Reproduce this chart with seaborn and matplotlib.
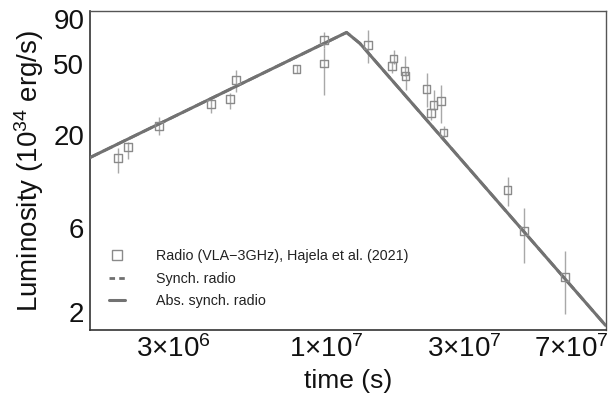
import numpy as np
import pandas as pd
import matplotlib
matplotlib.use("Agg")
import matplotlib.pyplot as plt
from matplotlib.lines import Line2D
import seaborn as sns

# ---- data ----
obs_t = [1.934e6, 2.093e6, 2.674e6, 4.017e6, 4.68e6, 4.907e6, 7.93e6, 9.87e6, 9.87e6,
         1.398e7, 1.708e7, 1.686e7, 1.864e7, 1.879e7, 2.218e7, 2.345e7, 2.301e7, 2.479e7,
         2.538e7, 4.211e7, 4.80e7, 6.63e7]
obs_L = [14.76, 17.02, 22.44, 29.74, 31.86, 40.76, 46.85, 68.5, 50.6,
         64.2, 54.0, 48.89, 45.8, 42.93, 36.26, 29.35, 26.56, 30.92,
         20.67, 9.77, 5.74, 3.17]
obs_hi = [16.80, 18.30, 25.12, 31.72, 34.31, 46.43, 49.54, 76.3, 61.75,
          77.98, 60.15, 51.5, 55.65, 45.5, 44.48, 35.8, 28.0, 38.19,
          22.43, 11.61, 7.71, 4.44]
obs_lo = [12.24, 14.57, 19.97, 26.46, 27.87, 35.03, 44.48, 61.75, 33.6,
          50.6, 50.5, 44.48, 43.0, 35.8, 28.59, 27.5, 24.25, 23.24,
          19.52, 7.94, 3.80, 1.95]

model_t = [1.545e6, 1.178e7, 1.31e7, 9.14e7]
model_L = [14.9, 75.7, 65.6, 1.69]

xticks = [3e6, 1e7, 3e7, 7e7]
xtick_labels = [r"3×10$^{6}$", r"1×10$^{7}$", r"3×10$^{7}$", r"7×10$^{7}$"]
yticks = [2, 6, 20, 50, 90]
ytick_labels = ["2", "6", "20", "50", "90"]

legend_labels = ["Radio (VLA\u22123GHz), Hajela et al. (2021)", "Synch. radio", "Abs. synch. radio"]

# ---- style ----
sns.set_style("white")
plt.rcParams["font.family"] = ["Liberation Sans", "DejaVu Sans"]
plt.rcParams["mathtext.fontset"] = "custom"
plt.rcParams["mathtext.rm"] = "Liberation Sans"
plt.rcParams["mathtext.it"] = "Liberation Sans:italic"
plt.rcParams["mathtext.default"] = "regular"

fig = plt.figure(figsize=(6.11, 4.07), dpi=100)
ax = fig.add_axes([0.147, 0.189, 0.844, 0.784])

df_obs = pd.DataFrame({"t": obs_t, "L": obs_L, "hi": obs_hi, "lo": obs_lo})
df_mod = pd.DataFrame({"t": model_t, "L": model_L})

ax.set_xscale("log")
ax.set_yscale("log")

# error bars
yerr = np.vstack([df_obs["L"] - df_obs["lo"], df_obs["hi"] - df_obs["L"]])
ax.errorbar(df_obs["t"], df_obs["L"], yerr=yerr, fmt="none", ecolor="#a8a8a8",
            elinewidth=1.0, capsize=0, zorder=2)

# model lines
sns.lineplot(data=df_mod, x="t", y="L", ax=ax, color="#707070", lw=2.0,
             linestyle="--", zorder=3, legend=False)
sns.lineplot(data=df_mod, x="t", y="L", ax=ax, color="#727272", lw=2.2,
             zorder=3, legend=False)

# markers
sns.scatterplot(data=df_obs, x="t", y="L", ax=ax, marker="s", s=32,
                facecolor="none", edgecolor="#8a8a8a", linewidth=1.0,
                zorder=4, legend=False)

ax.set_xlim(1.545e6, 9.14e7)
ax.set_ylim(1.589, 100)

ax.set_xticks(xticks)
ax.set_xticklabels(xtick_labels)
ax.set_yticks(yticks)
ax.set_yticklabels(ytick_labels)
ax.minorticks_off()
ax.tick_params(axis="both", direction="in", length=5, width=1, color="#555555",
               labelsize=20, pad=4, labelcolor="#111111")

for side in ["left", "bottom"]:
    ax.spines[side].set_color("#333333")
    ax.spines[side].set_linewidth(1.2)
for side in ["top", "right"]:
    ax.spines[side].set_color("#555555")
    ax.spines[side].set_linewidth(1.0)

ax.set_xlabel("time (s)", fontsize=19, color="#111111", labelpad=4)
ax.set_ylabel(r"Luminosity (10$^{34}$ erg/s)", fontsize=20, color="#111111", labelpad=5)

handles = [
    Line2D([], [], marker="s", linestyle="none", markersize=7.5,
           markerfacecolor="none", markeredgecolor="#8a8a8a", markeredgewidth=1.0),
    Line2D([], [], color="#707070", lw=2.0, linestyle=(0, (2, 1.5))),
    Line2D([], [], color="#727272", lw=2.2),
]
ax.legend(handles, legend_labels, loc="upper left", bbox_to_anchor=(0.0368, 0.255),
          frameon=False, fontsize=10.3, handlelength=1.1, handletextpad=2.2,
          labelspacing=0.62, borderpad=0, borderaxespad=0, labelcolor="#222222")

fig.savefig("out.png", dpi=100)
